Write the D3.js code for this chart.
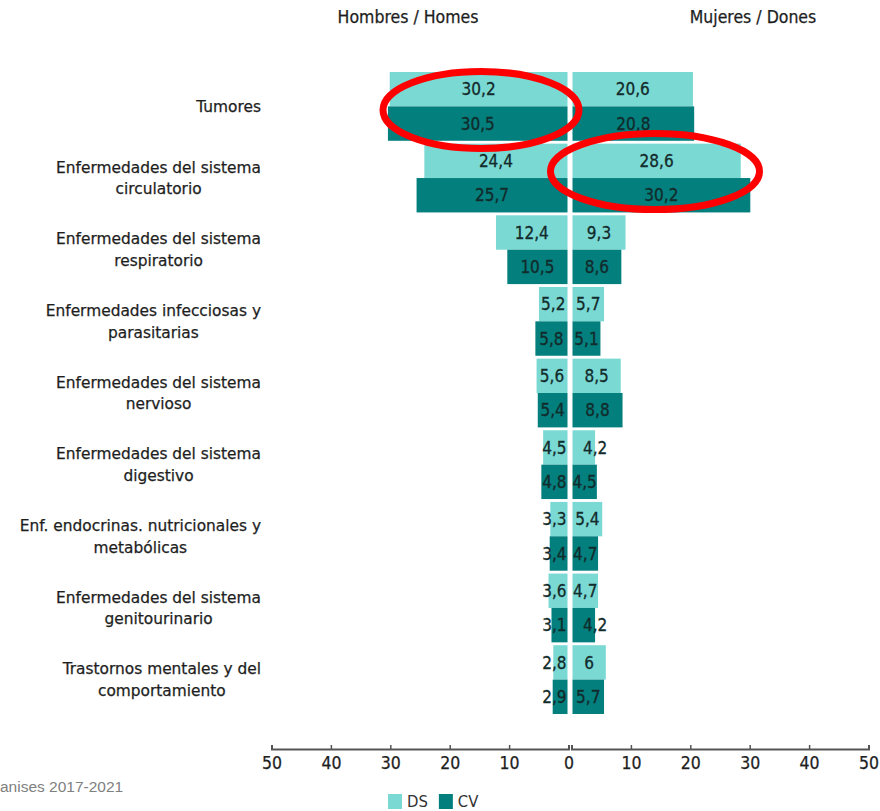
<!DOCTYPE html>
<html>
<head>
<meta charset="utf-8">
<script src="https://cdn.jsdelivr.net/npm/d3@7"></script>
<style>
  body { margin: 0; background: #fff; }
  svg { display: block; }
</style>
</head>
<body>
<div id="chart"></div>
<script>
  // data
  var categories = [
    ["Tumores"],
    ["Enfermedades del sistema", "circulatorio"],
    ["Enfermedades del sistema", "respiratorio"],
    ["Enfermedades infecciosas y", "parasitarias"],
    ["Enfermedades del sistema", "nervioso"],
    ["Enfermedades del sistema", "digestivo"],
    ["Enf. endocrinas. nutricionales y", "metabólicas"],
    ["Enfermedades del sistema", "genitourinario"],
    ["Trastornos mentales y del", "comportamiento"]
  ];
  var series = ["DS", "CV"];
  var hombresDS = [30.2, 24.4, 12.4, 5.2, 5.6, 4.5, 3.3, 3.6, 2.8];
  var hombresCV = [30.5, 25.7, 10.5, 5.8, 5.4, 4.8, 3.4, 3.1, 2.9];
  var mujeresDS = [20.6, 28.6, 9.3, 5.7, 8.5, 4.2, 5.4, 4.7, 6];
  var mujeresCV = [20.8, 30.2, 8.6, 5.1, 8.8, 4.5, 4.7, 4.2, 5.7];
  var ticks = [0, 10, 20, 30, 40, 50];
  var sideTitles = ["Hombres / Homes", "Mujeres / Dones"];
  var source = "anises 2017-2021";

  var width = 880, height = 811;
  var x0 = 570, gap = 2.5;
  var colors = { DS: "#7bd9d4", CV: "#037f7e" };
  var cond = "'DejaVu Sans Condensed', 'DejaVu Sans', sans-serif";

  var svg = d3.select("#chart").append("svg")
    .attr("width", width)
    .attr("height", height);

  // magnitude scale, same on both sides
  var len = d3.scaleLinear().domain([0, 50]).range([0, 298.5]);
  var xLeft  = d3.scaleLinear().domain([50, 0]).range([x0 - len(50), x0 - 1.5]);
  var xRight = d3.scaleLinear().domain([0, 50]).range([x0 + 1.5, x0 + len(50)]);

  var y = d3.scaleBand()
    .domain(d3.range(categories.length))
    .range([72, 714])
    .paddingInner(0.04);
  var ySub = d3.scaleBand().domain(series).range([0, y.bandwidth()]);

  var rows = [];
  categories.forEach(function(c, i){
    rows.push({i: i, s: "DS", side: "L", v: hombresDS[i]});
    rows.push({i: i, s: "CV", side: "L", v: hombresCV[i]});
    rows.push({i: i, s: "DS", side: "R", v: mujeresDS[i]});
    rows.push({i: i, s: "CV", side: "R", v: mujeresCV[i]});
  });

  function fmt(v){ return String(v).replace(".", ","); }

  var bars = svg.append("g");
  bars.selectAll("rect")
    .data(rows)
    .join("rect")
    .attr("x", function(d){ return d.side == "L" ? x0 - len(d.v) : x0 + gap; })
    .attr("width", function(d){ return len(d.v) - gap; })
    .attr("y", function(d){ return y(d.i) + ySub(d.s); })
    .attr("height", ySub.bandwidth())
    .attr("fill", function(d){ return colors[d.s]; });

  // value labels
  var labels = svg.append("g")
    .attr("font-family", cond)
    .attr("font-size", 17)
    .attr("fill", "#122b2b")
    .attr("stroke", "#122b2b")
    .attr("stroke-width", 0.3);
  labels.selectAll("text")
    .data(rows)
    .join("text")
    .text(function(d){ return fmt(d.v); })
    .attr("y", function(d){ return y(d.i) + ySub(d.s) + ySub.bandwidth() / 2; })
    .attr("dy", "0.36em")
    .each(function(d){
      var t = d3.select(this),
          w = this.getComputedTextLength(),
          barW = len(d.v) - gap;
      if(d.side == "L"){
        if(w + 2 > barW){
          t.attr("text-anchor", "end").attr("x", x0 - gap - 1);
        } else {
          t.attr("text-anchor", "middle").attr("x", x0 - gap - barW / 2);
        }
      } else {
        if(w > barW){
          t.attr("text-anchor", "middle").attr("x", x0 + len(d.v));
        } else {
          t.attr("text-anchor", "middle").attr("x", x0 + gap + barW / 2);
        }
      }
    });

  // category labels: lines centred on each other, block right aligned
  var catG = svg.append("g")
    .attr("font-family", "'DejaVu Sans', sans-serif")
    .attr("font-size", 15.4)
    .attr("fill", "#1e1e1e")
    .attr("stroke", "#1e1e1e")
    .attr("stroke-width", 0.25);
  var lineH = 21.5, rightEdge = 261;
  categories.forEach(function(lines, i){
    var g = catG.append("g");
    var cy = y(i) + y.bandwidth() / 2;
    var ts = lines.map(function(l, k){
      return g.append("text")
        .attr("text-anchor", "middle")
        .attr("y", cy + (k - (lines.length - 1) / 2) * lineH)
        .attr("dy", "0.36em")
        .text(l);
    });
    var maxW = d3.max(ts, function(t){ return t.node().getComputedTextLength(); });
    ts.forEach(function(t){ t.attr("x", rightEdge - maxW / 2); });
  });

  // side titles
  svg.append("g")
    .attr("font-family", cond)
    .attr("font-size", 17.5)
    .attr("fill", "#1e1e1e")
    .attr("stroke", "#1e1e1e")
    .attr("stroke-width", 0.25)
    .attr("text-anchor", "middle")
    .selectAll("text")
    .data(sideTitles)
    .join("text")
    .attr("x", function(d, i){ return i == 0 ? 408 : 753; })
    .attr("y", 23)
    .text(function(d){ return d; });

  // axes
  function styleAxis(g){
    g.select(".domain").attr("stroke", "#555").attr("stroke-width", 2);
    g.selectAll(".tick line").attr("stroke", "#555").attr("stroke-width", 1.5);
    g.selectAll(".tick text")
      .attr("font-family", cond)
      .attr("font-size", 17.5)
      .attr("fill", "#1e1e1e")
      .attr("stroke", "#1e1e1e")
      .attr("stroke-width", 0.25);
  }
  var axisY = 749;
  svg.append("g")
    .attr("transform", "translate(0," + axisY + ")")
    .call(d3.axisBottom(xLeft).tickValues(ticks).tickSizeInner(-4).tickSizeOuter(-4).tickPadding(8))
    .call(styleAxis);
  svg.append("g")
    .attr("transform", "translate(0," + axisY + ")")
    .call(d3.axisBottom(xRight).tickValues(ticks.slice(1)).tickSizeInner(-4).tickSizeOuter(-4).tickPadding(8))
    .call(styleAxis);

  // source note
  svg.append("text")
    .attr("x", 0)
    .attr("y", 792)
    .attr("font-family", "'Liberation Sans', Arial, sans-serif")
    .attr("font-size", 15.5)
    .attr("fill", "#808080")
    .text(source);

  // legend
  var legend = svg.append("g")
    .attr("transform", "translate(388,794)");
  var lx = 0;
  series.forEach(function(s){
    var item = legend.append("g").attr("transform", "translate(" + lx + ",0)");
    item.append("rect").attr("width", 14).attr("height", 15).attr("fill", colors[s]);
    var t = item.append("text")
      .attr("x", 19)
      .attr("y", 7.5)
      .attr("dy", "0.36em")
      .attr("font-family", cond)
      .attr("font-size", 16.5)
      .attr("fill", "#333")
      .text(s);
    lx += 19 + t.node().getComputedTextLength() + 11;
  });

  // red highlight ellipses
  var marks = [
    {cx: 481, cy: 110, rx: 98, ry: 38.5},
    {cx: 655, cy: 171.5, rx: 104.5, ry: 38}
  ];
  svg.append("g").selectAll("ellipse")
    .data(marks)
    .join("ellipse")
    .attr("cx", function(d){ return d.cx; })
    .attr("cy", function(d){ return d.cy; })
    .attr("rx", function(d){ return d.rx; })
    .attr("ry", function(d){ return d.ry; })
    .attr("fill", "none")
    .attr("stroke", "#f00")
    .attr("stroke-width", 7);
</script>
</body>
</html>
